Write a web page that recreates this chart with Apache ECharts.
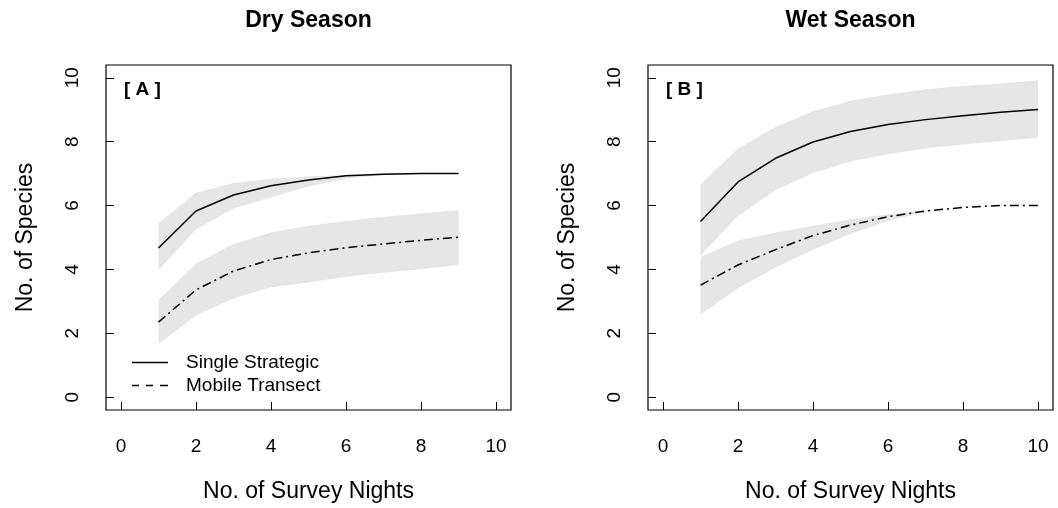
<!DOCTYPE html>
<html>
<head>
<meta charset="utf-8">
<script src="https://cdn.jsdelivr.net/npm/echarts@6/dist/echarts.min.js"></script>
<style>
  html, body { margin: 0; padding: 0; background: #fff; }
  #main { width: 1058px; height: 508px; }
</style>
</head>
<body>
<div id="main"></div>
<script>
var myChart = echarts.init(document.getElementById('main'));

// survey nights
var nightsDry = [1, 2, 3, 4, 5, 6, 7, 8, 9];
var nightsWet = [1, 2, 3, 4, 5, 6, 7, 8, 9, 10];

// dry season [A]
var singleDry    = [4.67, 5.83, 6.33, 6.62, 6.80, 6.93, 6.98, 7.00, 7.00];
var singleDryLo  = [3.98, 5.25, 5.91, 6.26, 6.60, 6.84, 6.96, 7.00, 7.00];
var singleDryHi  = [5.45, 6.40, 6.71, 6.84, 6.91, 6.96, 7.00, 7.00, 7.00];
var mobileDry    = [2.35, 3.36, 3.95, 4.31, 4.52, 4.68, 4.80, 4.91, 5.01];
var mobileDryLo  = [1.67, 2.56, 3.09, 3.44, 3.59, 3.77, 3.90, 4.01, 4.14];
var mobileDryHi  = [3.05, 4.19, 4.80, 5.16, 5.37, 5.52, 5.65, 5.75, 5.86];

// wet season [B]
var singleWet    = [5.50, 6.74, 7.48, 7.99, 8.32, 8.54, 8.69, 8.81, 8.92, 9.01];
var singleWetLo  = [4.44, 5.68, 6.48, 7.02, 7.38, 7.61, 7.79, 7.91, 8.01, 8.12];
var singleWetHi  = [6.65, 7.79, 8.46, 8.95, 9.28, 9.48, 9.64, 9.74, 9.82, 9.92];
var mobileWet    = [3.51, 4.14, 4.62, 5.06, 5.39, 5.65, 5.83, 5.94, 6.00, 6.00];
var mobileWetLo  = [2.59, 3.41, 4.06, 4.62, 5.11, 5.52, 5.81, 5.94, 6.00, 6.00];
var mobileWetHi  = [4.39, 4.91, 5.16, 5.37, 5.57, 5.73, 5.85, 5.94, 6.00, 6.00];

// tick labels
var xTicks = [0, 2, 4, 6, 8, 10];
var yTicks = [0, 2, 4, 6, 8, 10];

var FONT = '"Liberation Sans", Arial, Helvetica, sans-serif';
var BAND = '#e6e6e6';

function xAxisFor(idx) {
  return {
    type: 'value', gridIndex: idx, min: -0.4, max: 10.4,
    name: 'No. of Survey Nights', nameLocation: 'middle', nameGap: 70,
    nameTextStyle: { fontFamily: FONT, fontSize: 23, color: '#000' },
    axisLine: { show: false, onZero: false },
    splitLine: { show: false },
    axisTick: { show: true, inside: true, length: 8, customValues: xTicks, lineStyle: { color: '#000', width: 1 } },
    axisLabel: { customValues: xTicks, margin: 27, fontFamily: FONT, fontSize: 19, color: '#000' }
  };
}

function yAxisFor(idx) {
  return {
    type: 'value', gridIndex: idx, min: -0.4, max: 10.4,
    name: 'No. of Species', nameLocation: 'middle', nameGap: 69,
    nameTextStyle: { fontFamily: FONT, fontSize: 23, color: '#000' },
    axisLine: { show: false, onZero: false },
    splitLine: { show: false },
    axisTick: { show: true, inside: true, length: 8, customValues: yTicks, lineStyle: { color: '#000', width: 1 } },
    axisLabel: { customValues: yTicks, rotate: 90, margin: 24, fontFamily: FONT, fontSize: 19, color: '#000' }
  };
}

// grey confidence band drawn as one polygon
function band(idx, xs, lo, hi) {
  return {
    type: 'custom', xAxisIndex: idx, yAxisIndex: idx, silent: true,
    data: xs.map(function (x, i) { return [x, lo[i], hi[i]]; }),
    encode: { x: 0, y: [1, 2] },
    renderItem: function (params, api) {
      if (params.dataIndex !== 0) return null;
      var pts = [];
      for (var i = 0; i < xs.length; i++) pts.push(api.coord([xs[i], hi[i]]));
      for (var j = xs.length - 1; j >= 0; j--) pts.push(api.coord([xs[j], lo[j]]));
      return { type: 'polygon', shape: { points: pts }, style: { fill: BAND } };
    }
  };
}

function curve(idx, name, xs, ys, dash) {
  return {
    type: 'line', name: name, xAxisIndex: idx, yAxisIndex: idx,
    symbol: 'none', silent: true,
    lineStyle: { color: '#000', width: 1.5, type: dash },
    data: xs.map(function (x, i) { return [x, ys[i]]; })
  };
}

var dotdash = [9, 4, 2, 4];

option = {
  animation: false,
  backgroundColor: '#fff',
  title: [
    { text: 'Dry Season', left: 308.5, textAlign: 'center', top: 9, padding: 0,
      textStyle: { fontFamily: FONT, fontSize: 23, fontWeight: 'bold', color: '#000' } },
    { text: 'Wet Season', left: 850.5, textAlign: 'center', top: 9, padding: 0,
      textStyle: { fontFamily: FONT, fontSize: 23, fontWeight: 'bold', color: '#000' } },
    { text: '[ A ]', left: 124, top: 80, padding: 0,
      textStyle: { fontFamily: FONT, fontSize: 19, fontWeight: 'bold', color: '#000' } },
    { text: '[ B ]', left: 666, top: 80, padding: 0,
      textStyle: { fontFamily: FONT, fontSize: 19, fontWeight: 'bold', color: '#000' } }
  ],
  legend: {
    left: 132, top: 353, orient: 'vertical', padding: 0, itemGap: 4,
    itemWidth: 36, itemHeight: 18, selectedMode: false,
    textStyle: { fontFamily: FONT, fontSize: 19, color: '#000', padding: [0, 0, 0, 13] },
    data: [
      { name: 'Single Strategic', icon: 'path://M0,0h36v1.5h-36z', itemStyle: { color: '#000' } },
      { name: 'Mobile Transect', icon: 'path://M0,0h7v1.5h-7z M14,0h7v1.5h-7z M28,0h8v1.5h-8z', itemStyle: { color: '#000' } }
    ]
  },
  grid: [
    { left: 106, top: 65, width: 405, height: 349, show: true, borderColor: '#000', borderWidth: 1.2, backgroundColor: 'transparent' },
    { left: 648, top: 65, width: 405, height: 349, show: true, borderColor: '#000', borderWidth: 1.2, backgroundColor: 'transparent' }
  ],
  xAxis: [xAxisFor(0), xAxisFor(1)],
  yAxis: [yAxisFor(0), yAxisFor(1)],
  series: [
    band(0, nightsDry, singleDryLo, singleDryHi),
    band(0, nightsDry, mobileDryLo, mobileDryHi),
    band(1, nightsWet, singleWetLo, singleWetHi),
    band(1, nightsWet, mobileWetLo, mobileWetHi),
    curve(0, 'Single Strategic', nightsDry, singleDry, 'solid'),
    curve(0, 'Mobile Transect', nightsDry, mobileDry, dotdash),
    curve(1, 'Single Strategic', nightsWet, singleWet, 'solid'),
    curve(1, 'Mobile Transect', nightsWet, mobileWet, dotdash)
  ]
};

myChart.setOption(option);
</script>
</body>
</html>
